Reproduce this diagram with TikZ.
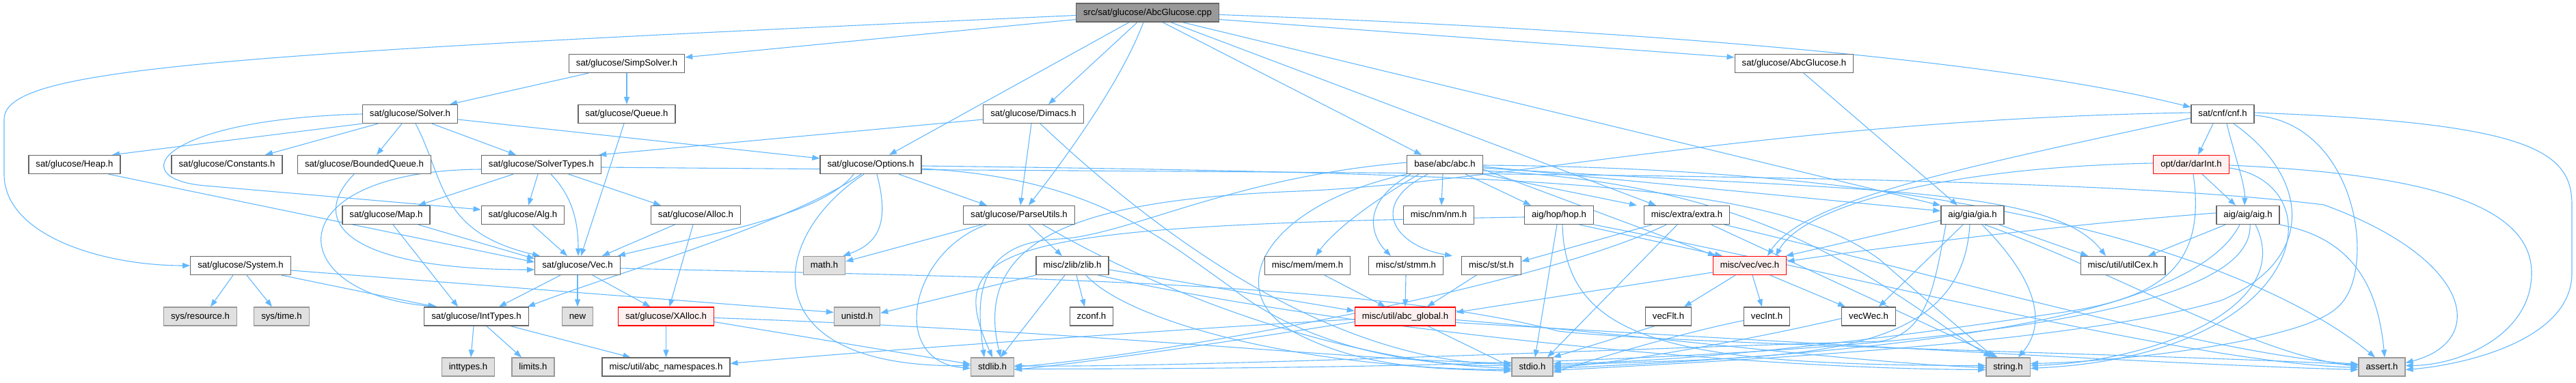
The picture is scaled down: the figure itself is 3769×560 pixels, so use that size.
\documentclass[tikz,border=0pt]{standalone}
\usepackage{fontspec}
\setmainfont{Liberation Sans}
\usetikzlibrary{arrows.meta}
\definecolor{edgeblue}{HTML}{63B8FF}
\definecolor{boxgray}{HTML}{666666}
\definecolor{sysfill}{HTML}{E0E0E0}
\definecolor{sysdraw}{HTML}{999999}
\definecolor{rootfill}{HTML}{999999}
\definecolor{redfill}{HTML}{FFF0F0}
\definecolor{reddraw}{HTML}{FF0000}
\pgfdeclarelayer{bg}
\pgfsetlayers{bg,main}
\begin{document}
\begin{tikzpicture}[x=1pt,y=-1pt,
  box/.style={font=\fontsize{13.2}{15}\selectfont, inner xsep=10.5pt, inner ysep=0pt, text height=10pt, text depth=3pt, minimum height=27pt, line width=1.3pt},
  nb/.style={box, draw=boxgray, fill=white},
  gb/.style={box, draw=sysdraw, fill=sysfill},
  rb/.style={box, draw=reddraw, fill=redfill},
  rootb/.style={box, draw=boxgray, fill=rootfill},
  e/.style={draw=edgeblue, line width=1.1pt, -{Triangle[length=11pt,width=8pt]}}]
\useasboundingbox (0,0) rectangle (3769,560);
% row 0
\node[rootb] (root) at (1679,18.5) {src/sat/glucose/AbcGlucose.cpp};
% row 1
\node[nb] (simp) at (917,93) {sat/glucose/SimpSolver.h};
\node[nb] (agh) at (2625,93) {sat/glucose/AbcGlucose.h};
% row 2
\node[nb] (solver) at (600,167) {sat/glucose/Solver.h};
\node[nb] (queue) at (917,167) {sat/glucose/Queue.h};
\node[nb] (dimacs) at (1512,167) {sat/glucose/Dimacs.h};
\node[nb] (cnf) at (3252,167) {sat/cnf/cnf.h};
% row 3
\node[nb] (heap) at (109,241) {sat/glucose/Heap.h};
\node[nb] (consts) at (332,241) {sat/glucose/Constants.h};
\node[nb] (bq) at (533,241) {sat/glucose/BoundedQueue.h};
\node[nb] (stypes) at (792,241) {sat/glucose/SolverTypes.h};
\node[nb] (options) at (1274,241) {sat/glucose/Options.h};
\node[nb] (abc) at (2114,241) {base/abc/abc.h};
\node[rb] (dar) at (3206,241) {opt/dar/darInt.h};
% row 4
\node[nb] (map) at (565,315) {sat/glucose/Map.h};
\node[nb] (alg) at (765,315) {sat/glucose/Alg.h};
\node[nb] (alloc) at (1018,315) {sat/glucose/Alloc.h};
\node[nb] (parse) at (1491,315) {sat/glucose/ParseUtils.h};
\node[nb] (nm) at (2105,315) {misc/nm/nm.h};
\node[nb] (hop) at (2281,315) {aig/hop/hop.h};
\node[nb] (extra) at (2468,315) {misc/extra/extra.h};
\node[nb] (gia) at (2886,315) {aig/gia/gia.h};
\node[nb] (aig) at (3289,315) {aig/aig/aig.h};
% row 5
\node[nb] (system) at (352,389) {sat/glucose/System.h};
\node[nb] (vec) at (845,389) {sat/glucose/Vec.h};
\node[gb] (math) at (1206,389) {math.h};
\node[nb] (zlib) at (1569,389) {misc/zlib/zlib.h};
\node[nb] (mem) at (1913,389) {misc/mem/mem.h};
\node[nb] (stmm) at (2057,389) {misc/st/stmm.h};
\node[nb] (st) at (2182,389) {misc/st/st.h};
\node[rb] (vech) at (2560,389) {misc/vec/vec.h};
\node[nb] (cex) at (3106,389) {misc/util/utilCex.h};
% row 6
\node[gb] (sysres) at (293,463.5) {sys/resource.h};
\node[gb] (systime) at (412,463.5) {sys/time.h};
\node[nb] (itypes) at (697,463.5) {sat/glucose/IntTypes.h};
\node[gb] (new) at (845,463.5) {new};
\node[rb] (xalloc) at (974.5,463.5) {sat/glucose/XAlloc.h};
\node[gb] (unistd) at (1254,463.5) {unistd.h};
\node[nb] (zconf) at (1597,463.5) {zconf.h};
\node[rb] (global) at (2056,463.5) {misc/util/abc\_global.h};
\node[nb] (vecflt) at (2441,463.5) {vecFlt.h};
\node[nb] (vecint) at (2585,463.5) {vecInt.h};
\node[nb] (vecwec) at (2734,463.5) {vecWec.h};
% row 7
\node[gb] (inttypesh) at (685,537.5) {inttypes.h};
\node[gb] (limits) at (780,537.5) {limits.h};
\node[nb] (ns) at (974.5,537.5) {misc/util/abc\_namespaces.h};
\node[gb] (stdlib) at (1452,537.5) {stdlib.h};
\node[gb] (stdio) at (2242,537.5) {stdio.h};
\node[gb] (string) at (2938,537.5) {string.h};
\node[gb] (assert) at (3485,537.5) {assert.h};

\begin{pgfonlayer}{bg}
% root
\draw[e] ([yshift=-4pt]root.west) .. controls (300,80) and (6,100) .. (6,175) -- (6,255) .. controls (6,345) and (150,389) .. (system.west);
\draw[e] ([yshift=-10pt]root.west) -- ([yshift=9pt]simp.east);
\draw[e] ([xshift=-27pt]root.south) -- ([xshift=27pt]options.north);
\draw[e] ([xshift=-15pt]root.south) -- ([xshift=22pt]dimacs.north);
\draw[e] ([xshift=-6pt]root.south) .. controls (1640,120) and (1560,230) .. ([xshift=14pt]parse.north);
\draw[e] ([xshift=22pt]root.south) -- ([xshift=-34pt]abc.north);
\draw[e] ([xshift=34pt]root.south) -- ([xshift=-45pt]extra.north);
\draw[e] ([xshift=51pt]root.south) -- (gia.north west);
\draw[e] ([yshift=-10pt]root.east) -- ([yshift=9pt]agh.west);
\draw[e] ([yshift=-3pt]root.east) .. controls (2300,40) and (2900,80) .. ([yshift=10pt]cnf.west);
% simp / queue
\draw[e] ([xshift=-56pt]simp.south) -- ([xshift=58pt]solver.north);
\draw[e] (simp.south) -- (queue.north);
\draw[e] ([xshift=-4pt]queue.south) -- ([xshift=5pt]vec.north);
% solver
\draw[e] (solver.south west) -- ([xshift=55pt]heap.north);
\draw[e] ([xshift=-47pt]solver.south) -- ([xshift=56pt]consts.north);
\draw[e] ([xshift=-12pt]solver.south) -- ([xshift=18pt]bq.north);
\draw[e] (solver.west) .. controls (230,175) and (180,262) .. (300,272) -- ([yshift=8pt]alg.west);
\draw[e] ([xshift=32pt]solver.south) -- ([xshift=-37pt]stypes.north);
\draw[e] ([yshift=-8pt]solver.east) -- ([yshift=9pt]options.west);
\draw[e] ([xshift=8pt]solver.south) .. controls (650,260) and (640,340) .. ([xshift=-55pt]vec.north);
% heap, bq
\draw[e] ([xshift=50pt]heap.south) -- ([yshift=5pt]vec.west);
\draw[e] ([xshift=-15pt]bq.south) .. controls (445,330) and (520,395) .. ([yshift=-6pt]vec.west);
% solver types
\draw[e] ([xshift=-41pt]stypes.south) -- ([xshift=47pt]map.north);
\draw[e] ([xshift=-5pt]stypes.south) -- ([xshift=8pt]alg.north);
\draw[e] ([xshift=40pt]stypes.south) -- ([xshift=-51pt]alloc.north);
\draw[e] ([xshift=14pt]stypes.south) .. controls (840,290) and (846,330) .. ([xshift=1pt]vec.north);
\draw[e] ([yshift=-7pt]stypes.west) .. controls (400,250) and (410,430) .. ([xshift=-57pt]itypes.north);
\draw[e] ([yshift=-4pt]stypes.east) .. controls (2000,255) and (3000,250) .. (3400,300) .. controls (3620,380) and (3640,500) .. ([yshift=6pt]assert.east);
% map, alg, alloc
\draw[e] ([xshift=10pt]map.south) -- ([xshift=-27pt]itypes.north);
\draw[e] ([xshift=47pt]map.south) -- ([yshift=10pt]vec.west);
\draw[e] ([xshift=14pt]alg.south) -- ([xshift=-15pt]vec.north);
\draw[e] ([xshift=-31pt]alloc.south) -- ([xshift=36pt]vec.north);
\draw[e] ([xshift=-4pt]alloc.south) -- ([xshift=5pt]xalloc.north);
% vec
\draw[e] ([xshift=-25pt]vec.south) -- ([xshift=33pt]itypes.north);
\draw[e] (vec.south) -- (new.north);
\draw[e] ([xshift=22pt]vec.south) -- ([xshift=-23pt]xalloc.north);
\draw[e] ([yshift=-4pt]vec.east) .. controls (1400,405) and (2000,410) .. (2280,485) .. controls (2450,505) and (3200,520) .. ([yshift=3pt]assert.west);
% inttypes
\draw[e] ([xshift=-4pt]itypes.south) -- ([xshift=4pt]inttypesh.north);
\draw[e] ([xshift=15pt]itypes.south) -- ([xshift=-17pt]limits.north);
\draw[e] ([xshift=50pt]itypes.south) -- ([xshift=-52pt]ns.north);
% xalloc
\draw[e] (xalloc.south) -- (ns.north);
\draw[e] ([yshift=-8pt]xalloc.east) -- ([yshift=4pt]stdlib.west);
\draw[e] ([yshift=-2pt]xalloc.east) .. controls (1600,485) and (2000,530) .. ([yshift=6pt]stdio.west);
% system
\draw[e] ([xshift=-11pt]system.south) -- ([xshift=15pt]sysres.north);
\draw[e] ([xshift=9pt]system.south) -- ([xshift=-14pt]systime.north);
\draw[e] ([xshift=60pt]system.south) -- ([xshift=-60pt]itypes.north);
\draw[e] ([yshift=-7pt]system.east) -- ([yshift=6pt]unistd.west);
% options
\draw[e] ([xshift=-25pt]options.south) .. controls (1200,320) and (1000,350) .. ([xshift=-4pt]vec.north east);
\draw[e] ([xshift=-14pt]options.south) .. controls (1150,330) and (900,400) .. ([xshift=-2pt]itypes.north east);
\draw[e] ([xshift=9pt]options.south) .. controls (1300,320) and (1290,355) .. ([xshift=-4pt]math.north east);
\draw[e] ([xshift=41pt]options.south) -- ([xshift=-47pt]parse.north);
\draw[e] ([xshift=-10pt]options.south) .. controls (1120,350) and (1100,540) .. ([yshift=2pt]stdlib.west);
\draw[e] ([yshift=-6pt]options.east) .. controls (1600,260) and (1700,350) .. (1800,420) .. controls (1900,500) and (2050,537) .. ([yshift=2pt]stdio.west);
\draw[e] ([yshift=-2pt]options.east) .. controls (2300,255) and (2600,270) .. (2750,380) .. controls (2830,450) and (2890,500) .. ([xshift=-20pt]string.north);
% parse
\draw[e] ([xshift=-55pt]parse.south) -- ([yshift=6pt]math.east);
\draw[e] ([xshift=-48pt]parse.south) .. controls (1330,370) and (1300,530) .. ([yshift=-2pt]stdlib.west);
\draw[e] ([xshift=14pt]parse.south) -- ([xshift=-15pt]zlib.north);
\draw[e] ([xshift=35pt]parse.south) .. controls (1680,420) and (1950,530) .. ([yshift=-2pt]stdio.west);
% dimacs
\draw[e] ([xshift=-3pt]dimacs.south) -- ([xshift=2pt]parse.north);
\draw[e] ([yshift=-8pt]dimacs.west) -- ([xshift=-4pt]stypes.north east);
\draw[e] ([xshift=10pt]dimacs.south) .. controls (1700,350) and (1950,530) .. ([yshift=4pt]stdio.west);
% zlib
\draw[e] ([xshift=6pt]zlib.south) -- ([xshift=-10pt]zconf.north);
\draw[e] (zlib.south west) -- ([yshift=5pt]unistd.east);
\draw[e] ([xshift=-11pt]zlib.south) -- ([xshift=12pt]stdlib.north);
\draw[e] ([yshift=-6pt]zlib.east) -- ([yshift=8pt]global.west);
\draw[e] ([xshift=38pt]zlib.south) .. controls (1900,470) and (2500,540) .. ([yshift=-4pt]string.west);
\draw[e] ([xshift=20pt]zlib.south) .. controls (1650,470) and (1900,540) .. ([yshift=-4pt]stdio.west);
% abc
\draw[e] ([xshift=-3pt]abc.south) -- ([xshift=4pt]nm.north);
\draw[e] ([xshift=30pt]abc.south) -- ([xshift=-41pt]hop.north);
\draw[e] (abc.south east) -- ([xshift=-73pt]extra.north);
\draw[e] ([xshift=-38pt]abc.south) .. controls (2000,300) and (1950,340) .. ([xshift=12pt]mem.north);
\draw[e] ([xshift=-50pt]abc.south) .. controls (1985,300) and (2010,350) .. ([xshift=-22pt]stmm.north);
\draw[e] ([xshift=-25pt]abc.south) .. controls (2000,300) and (2040,360) .. ([xshift=-57pt]st.north);
\draw[e] ([yshift=-3pt]abc.east) -- ([yshift=6pt]gia.west);
\draw[e] ([yshift=-7pt]abc.east) -- ([xshift=-50pt]vech.north);
\draw[e] ([yshift=-5pt]abc.east) .. controls (2700,280) and (3000,270) .. ([xshift=-25pt]cex.north);
\draw[e] ([yshift=3pt]abc.west) .. controls (1800,260) and (1650,345) .. (1550,350) .. controls (1420,355) and (1430,450) .. ([xshift=-12pt]stdlib.north);
\draw[e] (abc.south west) .. controls (1850,300) and (1780,430) .. (1900,490) .. controls (2000,540) and (2100,540) .. ([yshift=-6pt]stdio.west);
\draw[e] ([yshift=-9pt]abc.east) .. controls (2600,270) and (2750,420) .. ([xshift=-25pt]string.north);
\draw[e] ([yshift=-1pt]abc.east) .. controls (3000,248) and (3350,420) .. ([xshift=-10pt]assert.north);
% hop
\draw[e] ([xshift=-3pt]hop.south) -- ([xshift=4pt]stdio.north);
\draw[e] ([xshift=5pt]hop.south) .. controls (2290,500) and (2450,535) .. ([yshift=2pt]string.west);
\draw[e] ([xshift=30pt]hop.south) -- ([xshift=-40pt]vech.north);
\draw[e] (hop.south east) .. controls (2700,400) and (3200,530) .. ([yshift=-1pt]assert.west);
\draw[e] ([yshift=-3pt]hop.west) .. controls (1450,330) and (1380,360) .. (stdlib.north);
% extra
\draw[e] ([xshift=-51pt]extra.south) -- ([yshift=6pt]st.east);
\draw[e] ([xshift=-14pt]extra.south) -- ([xshift=22pt]stdio.north);
\draw[e] ([xshift=-30pt]extra.south) .. controls (2250,420) and (1700,520) .. (stdlib.east);
\draw[e] ([xshift=36pt]extra.south) -- ([xshift=-15pt]string.north);
\draw[e] ([xshift=55pt]extra.south) .. controls (2900,420) and (3250,520) .. ([yshift=4pt]assert.west);
% gia
\draw[e] ([yshift=-8pt]gia.west) -- ([xshift=53pt]vech.north);
\draw[e] ([xshift=-14pt]gia.south) -- ([xshift=15pt]vecwec.north);
\draw[e] ([xshift=39pt]gia.south) -- ([xshift=-51pt]cex.north);
\draw[e] ([xshift=14pt]gia.south) .. controls (2990,420) and (2990,480) .. ([xshift=15pt]string.north);
\draw[e] ([xshift=-4pt]gia.south) .. controls (2870,540) and (2600,520) .. ([yshift=2pt]stdio.east);
\draw[e] ([xshift=-39pt]gia.south) .. controls (2830,420) and (2820,490) .. (2750,500) .. controls (2400,510) and (1700,540) .. ([yshift=2pt]stdlib.east);
\draw[e] ([xshift=18pt]gia.south) .. controls (3100,400) and (3300,520) .. ([yshift=1pt]assert.west);
% aig
\draw[e] ([xshift=-33pt]aig.south) -- ([xshift=37pt]cex.north);
\draw[e] ([yshift=3pt]aig.west) .. controls (3000,330) and (2700,370) .. ([yshift=6pt]vech.east);
\draw[e] ([xshift=-12pt]aig.south) .. controls (3200,480) and (2700,520) .. ([yshift=-2pt]stdio.east);
\draw[e] ([xshift=3pt]aig.south) .. controls (3300,500) and (2500,540) .. ([yshift=-3pt]stdlib.east);
\draw[e] ([xshift=11pt]aig.south) .. controls (3360,450) and (3150,530) .. ([yshift=2pt]string.east);
\draw[e] (aig.south east) .. controls (3450,350) and (3480,430) .. ([xshift=4pt]assert.north);
% darInt
\draw[e] ([xshift=16pt]dar.south) -- ([xshift=-18pt]aig.north);
\draw[e] ([yshift=2pt]dar.west) .. controls (2850,245) and (2640,300) .. ([xshift=38pt]vech.north);
\draw[e] ([xshift=3pt]dar.south) .. controls (3230,400) and (3150,440) .. (3000,460) .. controls (2800,490) and (2500,530) .. ([yshift=5pt]stdio.east);
\draw[e] ([yshift=-5pt]dar.east) .. controls (3420,270) and (3380,520) .. ([yshift=-2pt]string.east);
\draw[e] ([yshift=-1pt]dar.east) .. controls (3550,255) and (3704,300) .. (3704,400) .. controls (3704,490) and (3600,535) .. ([yshift=2pt]assert.east);
% cnf
\draw[e] ([xshift=-14pt]cnf.south) -- ([xshift=10pt]dar.north);
\draw[e] ([xshift=6pt]cnf.south) .. controls (3270,230) and (3285,270) .. ([xshift=-5pt]aig.north);
\draw[e] ([yshift=-6pt]cnf.west) .. controls (2900,240) and (2640,290) .. ([xshift=26pt]vech.north);
\draw[e] ([yshift=2pt]cnf.west) .. controls (2600,175) and (2200,268) .. (1900,280) .. controls (1600,292) and (1420,340) .. ([xshift=12pt]stdlib.north);
\draw[e] ([xshift=16pt]cnf.south) .. controls (3380,260) and (3390,380) .. (3250,440) .. controls (3050,500) and (2600,525) .. ([yshift=-5pt]stdio.east);
\draw[e] ([yshift=-2pt]cnf.east) .. controls (3450,180) and (3480,400) .. (3420,450) .. controls (3370,500) and (3100,530) .. ([yshift=5pt]string.east);
\draw[e] ([yshift=2pt]cnf.east) .. controls (3700,180) and (3763,220) .. (3763,300) -- (3763,400) .. controls (3763,500) and (3600,535) .. ([yshift=-4pt]assert.east);
% vec.h
\draw[e] ([xshift=4pt]vech.south) -- ([xshift=-7pt]vecint.north);
\draw[e] ([xshift=30pt]vech.south) -- ([xshift=-34pt]vecwec.north);
\draw[e] ([xshift=-21pt]vech.south) -- ([xshift=23pt]vecflt.north);
\draw[e] ([yshift=-10pt]vech.west) -- ([yshift=6pt]global.east);
\draw[e] ([yshift=-6pt]vecint.west) .. controls (2450,490) and (2320,530) .. ([yshift=-8pt]stdio.east);
\draw[e] ([yshift=-3pt]vecwec.west) .. controls (2550,500) and (2350,535) .. (stdio.east);
\draw[e] ([xshift=-20pt]vecflt.south) -- (stdio.north east);
% mem, stmm, st
\draw[e] ([xshift=25pt]mem.south) -- ([xshift=-29pt]global.north);
\draw[e] (stmm.south) -- (global.north);
\draw[e] ([xshift=-22pt]st.south) -- ([xshift=32pt]global.north);
% abc_global
\draw[e] ([xshift=33pt]global.south) -- (stdio.west);
\draw[e] ([yshift=-4pt]global.west) .. controls (1600,490) and (1200,520) .. ([yshift=5pt]ns.east);
\draw[e] ([yshift=-8pt]global.west) .. controls (1800,500) and (1600,530) .. ([yshift=-4pt]stdlib.east);
\draw[e] ([yshift=-5pt]global.east) .. controls (2400,490) and (2700,530) .. ([yshift=-1pt]string.west);
\draw[e] ([yshift=-9pt]global.east) .. controls (2600,500) and (3200,535) .. ([yshift=-4pt]assert.west);
% AbcGlucose.h
\draw[e] ([xshift=14pt]agh.south) -- ([xshift=-22pt]gia.north);
\end{pgfonlayer}
\end{tikzpicture}
\end{document}
